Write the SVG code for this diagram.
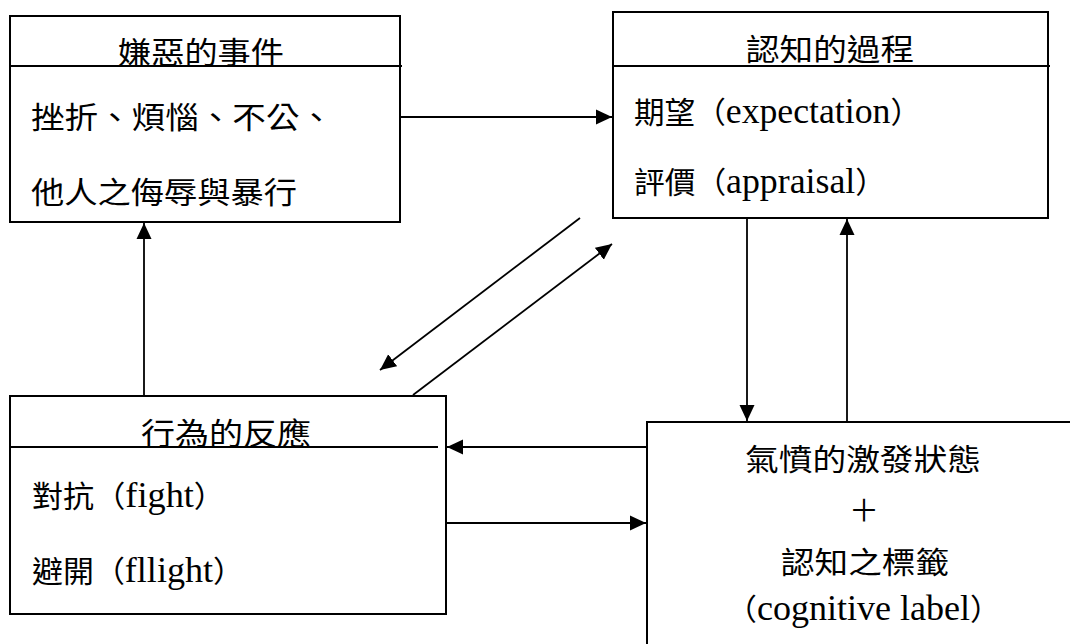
<svg xmlns="http://www.w3.org/2000/svg" width="1070" height="644" viewBox="0 0 1070 644">
  <style>
    .box { fill: #ffffff; stroke: #000000; stroke-width: 2; }
    .rule { stroke: #000000; stroke-width: 2; fill: none; }
    .conn { stroke: #000000; stroke-width: 1.8; fill: none; marker-end: url(#arrow); }
    text { font-family: "Liberation Serif", "Noto Sans CJK TC", serif; font-size: 30px; fill: #000000; }
    .lat { font-size: 35px; }
  </style>
  <defs>
    <marker id="arrow" markerUnits="userSpaceOnUse" markerWidth="17" markerHeight="17" viewBox="0 0 17 17" refX="16" refY="8.5" orient="auto">
      <path d="M0,1 L16,8.5 L0,16 Z" fill="#000000"/>
    </marker>
  </defs>

  <rect width="1070" height="644" fill="#ffffff"/>

  <!-- aversive events -->
  <g id="node-events">
    <rect class="box" x="10" y="16" width="390" height="206"/>
    <line class="rule" x1="10" y1="66" x2="402" y2="66"/>
    <text x="118" y="63" textLength="166" lengthAdjust="spacingAndGlyphs">嫌惡的事件</text>
    <text x="31" y="128" textLength="302" lengthAdjust="spacingAndGlyphs">挫折、煩惱、不公、</text>
    <text x="31" y="203" textLength="266" lengthAdjust="spacingAndGlyphs">他人之侮辱與暴行</text>
  </g>

  <!-- cognitive process -->
  <g id="node-cognition">
    <rect class="box" x="613" y="12" width="435" height="206"/>
    <line class="rule" x1="613" y1="66" x2="1050" y2="66"/>
    <text x="746" y="60" textLength="168" lengthAdjust="spacingAndGlyphs">認知的過程</text>
    <text x="634" y="123" textLength="287" lengthAdjust="spacingAndGlyphs">期望（<tspan class="lat">expectation</tspan>）</text>
    <text x="634" y="193" textLength="252" lengthAdjust="spacingAndGlyphs">評價（<tspan class="lat">appraisal</tspan>）</text>
  </g>

  <!-- behavioural response -->
  <g id="node-response">
    <rect class="box" x="10" y="396" width="436" height="218"/>
    <line class="rule" x1="10" y1="447" x2="438" y2="447"/>
    <text x="141" y="444" textLength="170" lengthAdjust="spacingAndGlyphs">行為的反應</text>
    <text x="32" y="507" textLength="193" lengthAdjust="spacingAndGlyphs">對抗（<tspan class="lat">fight</tspan>）</text>
    <text x="32" y="582" textLength="212" lengthAdjust="spacingAndGlyphs">避開（<tspan class="lat">fllight</tspan>）</text>
  </g>

  <!-- anger arousal + cognitive label -->
  <g id="node-arousal">
    <rect class="box" x="647" y="422" width="500" height="300"/>
    <text x="745" y="470" textLength="236" lengthAdjust="spacingAndGlyphs">氣憤的激發狀態</text>
    <text x="864" y="521" text-anchor="middle">＋</text>
    <text x="781" y="573" textLength="168" lengthAdjust="spacingAndGlyphs">認知之標籤</text>
    <text x="726" y="620" textLength="275" lengthAdjust="spacingAndGlyphs">（<tspan class="lat">cognitive label</tspan>）</text>
  </g>

  <g id="connectors">
    <path class="conn" d="M400,117 H612"/>
    <path class="conn" d="M747,218 V421"/>
    <path class="conn" d="M847,422 V219"/>
    <path class="conn" d="M647,447 H447"/>
    <path class="conn" d="M446,523 H646"/>
    <path class="conn" d="M144,396 V223"/>
    <path class="conn" d="M580,218 L380,370"/>
    <path class="conn" d="M413,395 L612,244"/>
  </g>
</svg>
